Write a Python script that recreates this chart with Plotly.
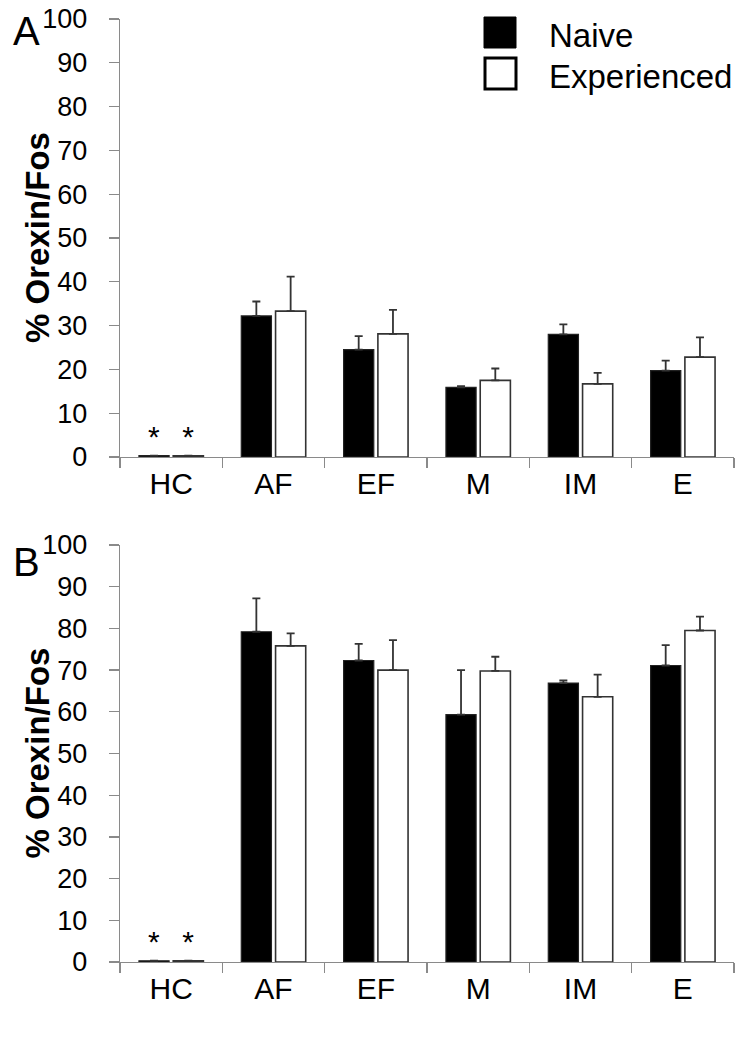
import plotly.graph_objects as go

categories = ["HC", "AF", "EF", "M", "IM", "E"]

a_naive = [0.3, 32.2, 24.5, 15.9, 28.0, 19.7]
a_naive_err = [0, 3.3, 3.1, 0.3, 2.3, 2.3]
a_exp = [0.3, 33.3, 28.1, 17.5, 16.7, 22.8]
a_exp_err = [0, 7.9, 5.5, 2.7, 2.5, 4.5]

b_naive = [0.3, 79.2, 72.3, 59.3, 66.9, 71.1]
b_naive_err = [0, 8.0, 4.0, 10.7, 0.6, 4.9]
b_exp = [0.3, 75.8, 70.0, 69.8, 63.6, 79.5]
b_exp_err = [0, 3.0, 7.2, 3.4, 5.3, 3.3]

sig_marks = ["*", "", "", "", "", ""]
yticks = list(range(0, 101, 10))
series_names = ["Naive", "Experienced"]
panel_labels = ["A", "B"]
y_title = "% Orexin/Fos"

W, H = 755, 1050
ML, MT = 120, 19
MR = W - 734
MB = H - 962
PW = W - ML - MR
PH = H - MT - MB


def px(xw):
    return (xw - ML) / PW


def py(yw):
    return (H - MB - yw) / PH


FONT = "Liberation Sans, Arial, sans-serif"
AX = "#8a8a8a"
EDGE = "#333333"

fig = go.Figure()


def add_pair(naive, naive_err, exp, exp_err, xa, ya):
    fig.add_trace(go.Bar(
        x=categories, y=naive, name=series_names[0], xaxis=xa, yaxis=ya,
        marker=dict(color="black", line=dict(color="#222222", width=1.2)),
        error_y=dict(type="data", array=naive_err, arrayminus=[0] * len(naive),
                     symmetric=False, color=EDGE, thickness=1.8, width=4),
        text=sig_marks, textposition="outside", cliponaxis=False,
        textfont=dict(size=30, color="black", family=FONT),
    ))
    fig.add_trace(go.Bar(
        x=categories, y=exp, name=series_names[1], xaxis=xa, yaxis=ya,
        marker=dict(color="white", line=dict(color=EDGE, width=1.6)),
        error_y=dict(type="data", array=exp_err, arrayminus=[0] * len(exp),
                     symmetric=False, color=EDGE, thickness=1.8, width=4),
        text=sig_marks, textposition="outside", cliponaxis=False,
        textfont=dict(size=30, color="black", family=FONT),
    ))


add_pair(a_naive, a_naive_err, a_exp, a_exp_err, "x", "y")
add_pair(b_naive, b_naive_err, b_exp, b_exp_err, "x2", "y2")

top_dom = [py(457), py(19)]
bot_dom = [0, py(545)]

xax = dict(
    showline=True, linecolor=AX, linewidth=1.2, ticks="outside", ticklen=10,
    tickcolor=AX, tickwidth=1.2, tickson="boundaries", automargin=False,
    tickfont=dict(size=30, color="black", family=FONT), ticklabeloverflow="allow",
    showgrid=False, zeroline=False, range=[-0.5, 5.5], fixedrange=True,
)
yax = dict(
    showline=True, linecolor=AX, linewidth=1.2, ticks="outside", ticklen=10,
    tickcolor=AX, tickwidth=1.2, tickvals=yticks, range=[0, 100], automargin=False,
    tickfont=dict(size=27, color="black", family=FONT), ticklabelstandoff=16,
    ticklabeloverflow="allow",
    showgrid=False, zeroline=False, fixedrange=True,
)

fig.update_layout(
    width=W, height=H,
    margin=dict(l=ML, r=MR, t=MT, b=MB, pad=0, autoexpand=False),
    paper_bgcolor="white", plot_bgcolor="white",
    showlegend=False, barmode="group", bargap=0.33, bargroupgap=0.12,
    font=dict(family=FONT, color="black"),
    xaxis=dict(xax, anchor="y"),
    yaxis=dict(yax, domain=top_dom, anchor="x"),
    xaxis2=dict(xax, anchor="y2"),
    yaxis2=dict(yax, domain=bot_dom, anchor="x2"),
)

annotations = []
for dom, lab, ly in [(top_dom, panel_labels[0], 31), (bot_dom, panel_labels[1], 562)]:
    annotations.append(dict(
        text="<b>" + y_title + "</b>", textangle=-90, xref="paper", yref="paper",
        x=px(37), y=(dom[0] + dom[1]) / 2, xanchor="center", yanchor="middle",
        showarrow=False, font=dict(size=33, color="black", family=FONT),
    ))
    annotations.append(dict(
        text=lab, xref="paper", yref="paper", x=px(27), y=py(ly),
        xanchor="center", yanchor="middle", showarrow=False,
        font=dict(size=40, color="black", family=FONT),
    ))

# legend drawn as large swatches
shapes = [
    dict(type="rect", xref="paper", yref="paper", x0=px(484), x1=px(516),
         y0=py(48), y1=py(17), fillcolor="black", line=dict(color="black", width=1)),
    dict(type="rect", xref="paper", yref="paper", x0=px(485), x1=px(516),
         y0=py(89), y1=py(58), fillcolor="white", line=dict(color="black", width=3)),
]
annotations.append(dict(
    text=series_names[0], xref="paper", yref="paper", x=px(547), y=py(35),
    xanchor="left", yanchor="middle", showarrow=False,
    font=dict(size=33, color="black", family=FONT),
))
annotations.append(dict(
    text=series_names[1], xref="paper", yref="paper", x=px(547), y=py(77),
    xanchor="left", yanchor="middle", showarrow=False,
    font=dict(size=33, color="black", family=FONT),
))

fig.update_layout(annotations=annotations, shapes=shapes)
fig.write_html(
    "out.html",
    config={"displayModeBar": False, "staticPlot": True},
    post_script="document.body.style.margin='0';document.body.style.overflow='hidden';",
)
